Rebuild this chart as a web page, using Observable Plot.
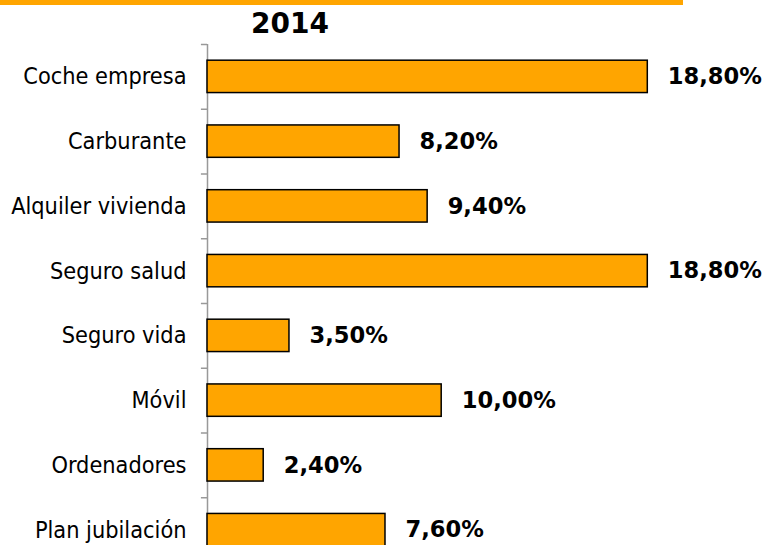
<!DOCTYPE html>
<html>
<head>
<meta charset="utf-8">
<script src="https://cdn.jsdelivr.net/npm/d3@7"></script>
<script src="https://cdn.jsdelivr.net/npm/@observablehq/plot@0.6"></script>
<style>
  html, body { margin: 0; padding: 0; background: #fff; }
  #wrap { position: relative; width: 767px; height: 545px; overflow: hidden; }
  #topline { position: absolute; left: 0; top: 0; width: 683px; height: 5px; background: #FFA500; }
  #title { position: absolute; left: 190px; width: 200px; top: 8px; text-align: center; line-height: 32px;
           font-family: "DejaVu Sans", sans-serif; font-weight: bold; font-size: 28px; color: #000; }
  #chart { position: absolute; left: 0; top: 0; }
  .cat { font-family: "DejaVu Sans Condensed", "DejaVu Sans", sans-serif; }
</style>
</head>
<body>
<div id="wrap">
  <div id="topline"></div>
  <div id="title">2014</div>
  <div id="chart"></div>
</div>
<script>
const categories = ["Coche empresa", "Carburante", "Alquiler vivienda", "Seguro salud", "Seguro vida", "Móvil", "Ordenadores", "Plan jubilación"];
const values = [18.8, 8.2, 9.4, 18.8, 3.5, 10.0, 2.4, 7.6];
const data = categories.map((c, i) => ({category: c, value: values[i]}));
const fmt = v => v.toFixed(2).replace(".", ",") + "%";

const chart = Plot.plot({
  width: 767,
  height: 545,
  marginTop: 44,
  marginBottom: 0,
  marginLeft: 207,
  marginRight: 0,
  style: {fontFamily: "DejaVu Sans, sans-serif", background: "transparent"},
  x: {domain: [0, 20], range: [207, 675.4], axis: null},
  y: {domain: categories, range: [44, 562], paddingInner: 0.5, paddingOuter: 0.25, round: false, axis: null},
  marks: [
    Plot.ruleX([0], {stroke: "#999", strokeWidth: 1.5}),
    Plot.ruleY(categories, {y: d => d, x1: -0.26, x2: 0, dy: -32.375, stroke: "#999", strokeWidth: 1.5}),
    Plot.barX(data, {x: "value", y: "category", fill: "#FFA500", stroke: "#000", strokeWidth: 1.5}),
    Plot.text(data, {x: 0, y: "category", text: "category", textAnchor: "end", dx: -21, fontSize: 23.3, fill: "#000", className: "cat"}),
    Plot.text(data, {x: "value", y: "category", text: d => fmt(d.value), textAnchor: "start", dx: 20, fontSize: 22.6, fontWeight: "bold", fill: "#000"})
  ]
});
document.getElementById("chart").appendChild(chart);
</script>
</body>
</html>
